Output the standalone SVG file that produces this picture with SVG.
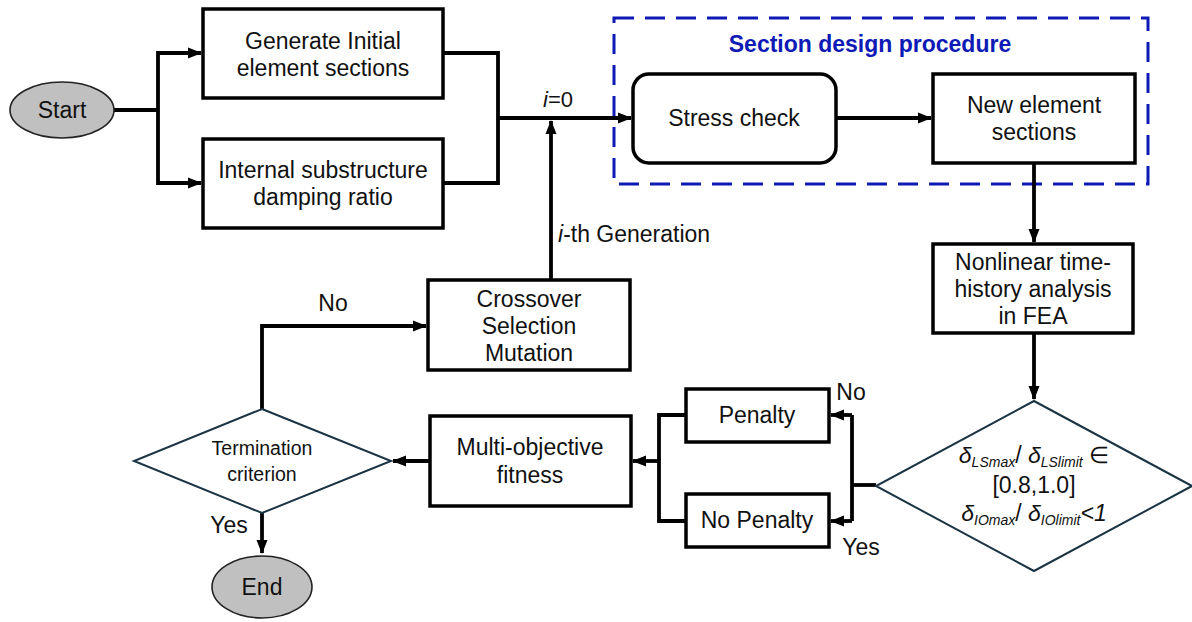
<svg xmlns="http://www.w3.org/2000/svg" width="1192" height="622" viewBox="0 0 1192 622">
<style>
text{font-family:"Liberation Sans",Arial,sans-serif;fill:#111;}
.t{font-size:23px;text-anchor:middle;}
.s{font-size:19.5px;text-anchor:middle;}
.box{fill:#fff;stroke:#000;stroke-width:3.5;}
.dia{fill:#fff;stroke:#1b3444;stroke-width:2;}
.ell{fill:#c0c0c0;stroke:#222;stroke-width:1.6;}
.c{fill:none;stroke:#000;stroke-width:3.8;}
.sub{font-size:14px;font-style:italic;}
</style>
<defs>
<marker id="ah" markerUnits="userSpaceOnUse" markerWidth="14" markerHeight="14" viewBox="0 0 14 14" refX="13" refY="7" orient="auto">
<path d="M0,1.5 L14,7 L0,12.5 z" fill="#000"/>
</marker>
</defs>

<g id="section-design-group">
<rect x="614" y="18" width="534" height="166" fill="none" stroke="#0d1ab5" stroke-width="3" stroke-dasharray="20,11"/>
<text x="870" y="52" style="font-size:23px;font-weight:bold;text-anchor:middle;fill:#0d1ab5;">Section design procedure</text>
</g>

<g id="connectors">
<path class="c" d="M114,110 H158"/>
<path class="c" d="M158,110 V53 H201" marker-end="url(#ah)"/>
<path class="c" d="M158,110 V183 H201" marker-end="url(#ah)"/>
<path class="c" d="M443,53 H498 V183 H443"/>
<path class="c" d="M498,118 H631" marker-end="url(#ah)"/>
<path class="c" d="M551,280 V121" marker-end="url(#ah)"/>
<path class="c" d="M836,118 H931" marker-end="url(#ah)"/>
<path class="c" d="M1034,164 V242" marker-end="url(#ah)"/>
<path class="c" d="M1034,333 V399" marker-end="url(#ah)"/>
<path class="c" d="M876,485 H852"/>
<path class="c" d="M852,415 V521"/>
<path class="c" d="M852,415 H831" marker-end="url(#ah)"/>
<path class="c" d="M852,521 H831" marker-end="url(#ah)"/>
<path class="c" d="M686,415 H659 V521 H686"/>
<path class="c" d="M659,461 H633" marker-end="url(#ah)"/>
<path class="c" d="M430,461 H393" marker-end="url(#ah)"/>
<path class="c" d="M262,409 V326 H426" marker-end="url(#ah)"/>
<path class="c" d="M262,513 V553" marker-end="url(#ah)"/>
<text x="558" y="107" style="font-size:22px;text-anchor:middle;"><tspan font-style="italic">i</tspan>=0</text>
<text x="558" y="242" style="font-size:23px;"><tspan font-style="italic">i</tspan>-th Generation</text>
<text class="t" x="333" y="311">No</text>
<text class="t" x="229" y="533">Yes</text>
<text class="t" x="851" y="400">No</text>
<text class="t" x="861" y="555">Yes</text>
</g>

<g id="start">
<ellipse class="ell" cx="62" cy="110" rx="52" ry="28"/>
<text class="t" x="62" y="118">Start</text>
</g>

<g id="generate-initial">
<rect class="box" x="203" y="9" width="240" height="89"/>
<text class="t" x="323" y="49">Generate Initial</text>
<text class="t" x="323" y="76">element sections</text>
</g>

<g id="internal-damping">
<rect class="box" x="203" y="139" width="240" height="89"/>
<text class="t" x="323" y="178">Internal substructure</text>
<text class="t" x="323" y="205">damping ratio</text>
</g>

<g id="stress-check">
<rect class="box" x="633" y="74" width="203" height="89" rx="16"/>
<text class="t" x="734" y="126">Stress check</text>
</g>

<g id="new-element-sections">
<rect class="box" x="933" y="74" width="202" height="89"/>
<text class="t" x="1034" y="113">New element</text>
<text class="t" x="1034" y="140">sections</text>
</g>

<g id="nonlinear-analysis">
<rect class="box" x="933" y="244" width="200" height="89"/>
<text class="t" x="1033" y="270">Nonlinear time-</text>
<text class="t" x="1033" y="297">history analysis</text>
<text class="t" x="1033" y="324">in FEA</text>
</g>

<g id="drift-check">
<polygon class="dia" points="1034,401 1192,486 1034,571 876,486"/>
<text x="1034" y="463" style="font-size:23px;text-anchor:middle;"><tspan font-style="italic">δ</tspan><tspan class="sub" dy="4">LSmax</tspan><tspan dy="-4">/ </tspan><tspan font-style="italic">δ</tspan><tspan class="sub" dy="4">LSlimit</tspan><tspan dy="-4"> ∈</tspan></text>
<text class="t" x="1034" y="493">[0.8,1.0]</text>
<text x="1034" y="521" style="font-size:23px;text-anchor:middle;"><tspan font-style="italic">δ</tspan><tspan class="sub" dy="4">IOmax</tspan><tspan dy="-4">/ </tspan><tspan font-style="italic">δ</tspan><tspan class="sub" dy="4">IOlimit</tspan><tspan dy="-4" font-style="italic">&lt;1</tspan></text>
</g>

<g id="penalty">
<rect class="box" x="686" y="389" width="143" height="53"/>
<text class="t" x="757" y="423">Penalty</text>
</g>

<g id="no-penalty">
<rect class="box" x="686" y="494" width="143" height="53"/>
<text class="t" x="757" y="528">No Penalty</text>
</g>

<g id="multi-objective">
<rect class="box" x="430" y="416" width="201" height="90"/>
<text class="t" x="530" y="455">Multi-objective</text>
<text class="t" x="530" y="483">fitness</text>
</g>

<g id="termination">
<polygon class="dia" points="262,409 391,461 262,513 134,461"/>
<text class="s" x="262" y="455">Termination</text>
<text class="s" x="262" y="481">criterion</text>
</g>

<g id="crossover">
<rect class="box" x="428" y="280" width="202" height="90"/>
<text class="t" x="529" y="307">Crossover</text>
<text class="t" x="529" y="334">Selection</text>
<text class="t" x="529" y="361">Mutation</text>
</g>

<g id="end">
<ellipse class="ell" cx="262" cy="587" rx="50" ry="31"/>
<text class="t" x="262" y="595">End</text>
</g>
</svg>
